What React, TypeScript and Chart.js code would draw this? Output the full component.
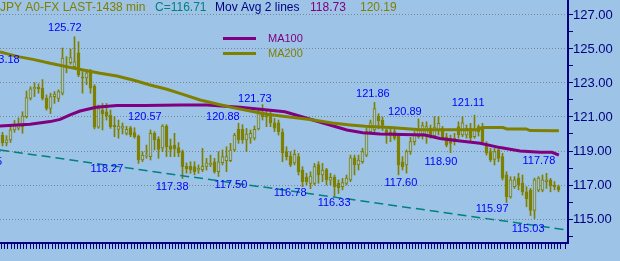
import React, { useEffect, useRef } from 'react';
import { Chart, registerables } from 'chart.js';

Chart.register(...registerables);

// ---- OHLC data (one bar per index) ----
const opens = [
  119.94, 119.47, 119.65, 120.24, 120.35, 120.43, 121.02, 122.1, 122.65, 122.75,
  122.7, 122.1, 121.5, 122.2, 122.1, 122.4, 124.0, 124.2, 123.96, 124.78,
  123.35, 123.3, 123.67, 122.8, 120.4, 121.4, 121.3, 121.1, 120.53, 120.27,
  120.35, 120.04, 120.37, 120.08, 119.88, 118.47, 118.7, 118.67, 120.04, 119.7,
  119.18, 120.47, 119.3, 119.35, 119.2, 118.96, 118.1, 118.1, 118.08, 117.88,
  117.9, 118.1, 118.18, 118.37, 117.78, 118.31, 118.43, 118.43, 119.06, 120.28,
  120.28, 119.65, 119.75, 119.75, 120.3, 121.22, 121.2, 121.2, 120.65, 120.65,
  120.1, 118.96, 118.7, 118.3, 118.67, 117.88, 117.47, 117.1, 117.1, 118.2,
  117.59, 117.9, 117.29, 117.47, 117.1, 116.9, 117.1, 117.3, 118.6, 118.18,
  118.37, 118.76, 120.14, 120.24, 121.06, 120.8, 120.24, 120.1, 120.14, 119.94,
  118.37, 118.18, 118.96, 119.55, 119.84, 120.0, 119.84, 120.33, 119.9, 120.24,
  120.35, 119.84, 119.75, 119.55, 120.43, 119.94, 119.94, 120.35, 119.84, 120.43,
  120.35, 119.35, 118.96, 118.5, 119.06, 118.67, 117.6, 116.3, 116.9, 117.4,
  117.1, 116.6, 116.7, 115.5, 116.7, 116.7, 117.2, 117.3, 117.0, 116.9,
];
const highs = [
  120.1, 119.9, 120.5, 120.8, 120.94, 121.31, 122.53, 122.78, 123.02, 122.95,
  123.2, 122.3, 122.4, 122.5, 122.6, 125.06, 124.55, 125.0, 125.72, 125.43,
  123.67, 123.8, 123.8, 122.9, 121.7, 121.8, 121.8, 121.41, 121.02, 120.82,
  120.65, 120.45, 120.45, 120.37, 119.94, 118.96, 119.35, 120.24, 120.14, 119.84,
  120.55, 120.55, 119.7, 120.04, 119.5, 119.06, 118.3, 118.37, 118.37, 118.18,
  119.16, 118.57, 118.76, 118.57, 118.96, 119.06, 119.25, 119.45, 120.04, 120.63,
  120.55, 120.33, 120.24, 120.47, 121.5, 121.73, 121.41, 121.41, 120.92, 120.82,
  120.3, 119.25, 118.96, 119.06, 118.86, 118.08, 117.69, 117.78, 118.27, 118.37,
  118.27, 117.98, 117.69, 117.59, 117.3, 117.39, 117.59, 118.76, 118.76, 118.76,
  119.16, 120.33, 120.82, 121.86, 121.2, 121.0, 120.43, 120.33, 120.33, 120.04,
  118.67, 119.06, 119.8, 120.14, 120.89, 120.7, 120.72, 120.53, 121.02, 121.02,
  120.45, 120.04, 119.94, 120.04, 120.72, 121.02, 120.53, 120.63, 121.11, 120.53,
  120.63, 119.55, 119.16, 119.16, 119.25, 118.86, 117.78, 117.49, 117.49, 117.69,
  117.59, 116.9, 116.8, 117.4, 117.49, 117.59, 117.69, 117.39, 117.2, 117.0,
];
const lows = [
  119.3, 119.3, 119.5, 120.1, 120.24, 120.04, 120.94, 122.0, 122.2, 122.4,
  122.0, 121.4, 121.2, 121.8, 121.9, 122.3, 123.6, 124.1, 123.9, 123.37,
  122.4, 122.9, 122.4, 120.3, 120.33, 120.24, 120.82, 120.33, 119.84, 119.75,
  120.0, 119.94, 119.84, 119.75, 118.27, 118.37, 118.57, 118.47, 119.06, 118.57,
  118.96, 118.67, 118.67, 118.67, 118.67, 117.38, 117.7, 117.69, 117.6, 117.69,
  117.78, 117.88, 118.08, 117.69, 117.5, 118.18, 117.78, 118.37, 118.96, 119.45,
  119.45, 118.96, 119.45, 119.65, 120.24, 120.82, 120.43, 120.43, 120.14, 119.94,
  118.37, 118.47, 118.08, 118.18, 117.59, 116.9, 117.0, 116.78, 117.0, 117.1,
  117.2, 117.0, 117.0, 116.33, 116.5, 116.71, 117.0, 117.2, 117.59, 117.88,
  118.27, 118.67, 120.04, 120.1, 120.3, 120.2, 119.45, 119.55, 119.65, 117.6,
  117.88, 117.7, 118.8, 119.35, 119.75, 119.7, 119.45, 119.75, 119.75, 119.94,
  119.65, 119.25, 118.9, 119.35, 119.75, 119.84, 119.75, 119.55, 119.75, 119.88,
  119.45, 118.76, 118.37, 118.18, 118.37, 117.29, 115.97, 116.22, 116.8, 116.71,
  116.41, 115.72, 115.2, 115.03, 116.6, 116.6, 116.8, 116.6, 116.71, 116.6,
];
const closes = [
  119.47, 119.65, 120.24, 120.53, 120.53, 121.06, 122.14, 122.65, 122.75, 122.65,
  122.1, 121.5, 122.2, 122.35, 122.5, 124.47, 123.9, 124.5, 124.25, 123.47,
  123.3, 123.6, 122.69, 120.4, 121.5, 121.2, 121.06, 120.43, 120.43, 120.47,
  120.45, 120.28, 119.94, 119.84, 118.47, 118.76, 118.76, 120.04, 119.65, 119.1,
  120.47, 119.25, 119.1, 119.12, 118.9, 118.08, 117.95, 117.9, 117.78, 117.98,
  118.1, 118.3, 118.27, 117.78, 118.37, 118.67, 118.67, 119.06, 119.94, 119.65,
  119.65, 120.0, 120.04, 120.28, 121.24, 121.02, 121.02, 120.65, 120.35, 120.14,
  118.9, 118.67, 118.18, 118.8, 117.78, 117.2, 117.2, 117.53, 118.08, 117.6,
  117.88, 117.3, 117.45, 116.9, 116.85, 117.14, 117.4, 118.6, 118.2, 118.47,
  118.96, 120.14, 120.65, 121.5, 120.78, 120.5, 120.06, 120.0, 119.75, 118.18,
  118.08, 118.96, 119.55, 119.94, 120.24, 120.5, 120.43, 119.94, 120.4, 120.63,
  119.77, 119.35, 119.45, 119.75, 119.94, 120.65, 120.33, 119.77, 120.24, 120.14,
  119.55, 118.88, 118.47, 118.96, 118.57, 117.4, 116.3, 117.3, 117.3, 117.0,
  116.6, 116.2, 115.5, 117.3, 117.4, 117.3, 117.3, 116.95, 116.9, 116.71,
];

// ---- Moving averages (bar index, value) ----
const ma100Idx = [-0.625, 6.9, 11.9, 14.4, 16.9, 19.4, 23.4, 28.6, 35.6, 44.4, 51.1, 59.4, 64.4, 70.6, 77.6, 86.1, 90.1, 94.4, 105.6, 109.4, 114.4, 119.4, 124.4, 129.4, 134.4, 137.4, 139.1];
const ma100Val = [120.47, 120.57, 120.73, 120.86, 121.12, 121.35, 121.57, 121.67, 121.67, 121.7, 121.7, 121.57, 121.45, 121.31, 120.82, 120.24, 120.08, 120.0, 119.94, 119.74, 119.59, 119.45, 119.2, 119.0, 118.92, 118.92, 118.76];
const ma200Idx = [-0.625, 3.9, 7.6, 11.9, 16.1, 21.1, 24.4, 28.6, 32.6, 36.9, 41.1, 45.1, 49.4, 53.6, 57.6, 61.9, 66.1, 70.1, 76.9, 82.4, 86.9, 90.6, 96.9, 104.4, 118.9, 119.9, 125.1, 126.1, 130.9, 131.9, 139.1];
const ma200Val = [124.82, 124.55, 124.39, 124.16, 123.96, 123.72, 123.57, 123.41, 123.18, 122.88, 122.63, 122.33, 122.0, 121.76, 121.55, 121.35, 121.16, 121.04, 120.85, 120.65, 120.53, 120.45, 120.38, 120.25, 120.25, 120.38, 120.38, 120.3, 120.3, 120.2, 120.19];

// ---- Trend line ----
const trendIdx = [-0.625, 141.375];
const trendVal = [119.06, 114.35];

// ---- Price annotations ----
const noteText = ['125.72', '123.18', '120.57', '120.88', '121.73', '118.27', '117.38', '117.50', '116.78', '121.86', '120.89', '121.11', '116.33', '117.60', '118.90', '115.97', '115.03', '117.78', '118.45'];
const noteIdx = [15.6, 4.3, 35.6, 55.1, 63.1, 26.1, 42.4, 57.1, 71.9, 92.6, 100.6, 116.4, 82.9, 99.6, 109.6, 122.4, 131.4, 134.1, -0.125];
const noteVal = [126.24, 124.35, 121.0, 121.0, 122.06, 117.94, 116.88, 117.0, 116.53, 122.35, 121.29, 121.82, 115.94, 117.12, 118.35, 115.59, 114.41, 118.41, 118.35];
const noteAlign = ['center', 'right', 'center', 'center', 'center', 'center', 'center', 'center', 'center', 'center', 'center', 'center', 'center', 'center', 'center', 'center', 'center', 'center', 'right'];

// ---- Header texts ----
const headerText = ['JPY A0-FX LAST-1438 min', 'C=116.71', 'Mov Avg 2 lines', '118.73', '120.19'];
const legendLabels = ['MA100', 'MA200'];

const BG = '#9dc3e6';
const OLIVE = '#808000';
const PURPLE = '#800080';
const TEAL = '#008080';
const NAVY = '#000080';
const BLUE = '#0000ff';
const FONT = '"Liberation Sans", Arial, sans-serif';

const Y_MIN = 127 - 228 / 17; // chart bottom value
const Y_MAX = 127 + 15 / 17;  // chart top value

const idx = opens.map((_, i) => i);

const bgPlugin = {
  id: 'bgFill',
  beforeDraw(chart: any) {
    const { ctx, width, height } = chart;
    ctx.save();
    ctx.fillStyle = BG;
    ctx.fillRect(0, 0, width, height);
    ctx.restore();
  },
};

const overlayPlugin = {
  id: 'overlay',
  afterDraw(chart: any) {
    const { ctx } = chart;
    const xs = chart.scales.x;
    const ys = chart.scales.y;
    ctx.save();
    // annotations
    ctx.font = `11px ${FONT}`;
    ctx.fillStyle = BLUE;
    ctx.textBaseline = 'middle';
    noteText.forEach((t, k) => {
      ctx.textAlign = noteAlign[k];
      ctx.fillText(t, xs.getPixelForValue(noteIdx[k]), ys.getPixelForValue(noteVal[k]));
    });
    // header
    ctx.font = `12px ${FONT}`;
    ctx.textAlign = 'left';
    const hx = [0, 155, 215, 310, 360];
    const hc = [OLIVE, TEAL, NAVY, PURPLE, OLIVE];
    headerText.forEach((t, k) => {
      ctx.fillStyle = hc[k];
      ctx.fillText(t, hx[k], 8);
    });
    // legend
    const lc = [PURPLE, OLIVE];
    const ly = [38, 53];
    legendLabels.forEach((t, k) => {
      ctx.strokeStyle = lc[k];
      ctx.lineWidth = 3;
      ctx.beginPath();
      ctx.moveTo(223, ly[k] + 0.5);
      ctx.lineTo(256, ly[k] + 0.5);
      ctx.stroke();
      ctx.fillStyle = lc[k];
      ctx.font = `11px ${FONT}`;
      ctx.fillText(t, 268, ly[k] + 1);
    });
    ctx.restore();
  },
};

export default function App() {
  const ref = useRef<HTMLCanvasElement>(null);
  useEffect(() => {
    if (!ref.current) return;
    Chart.defaults.font.family = FONT;
    const chart = new Chart(ref.current, {
      type: 'bar',
      data: {
        datasets: [
          {
            type: 'bar',
            label: 'wick',
            data: idx.map((i) => ({ x: i, y: [lows[i], highs[i]] })) as any,
            barThickness: 1,
            backgroundColor: OLIVE,
            borderWidth: 0,
            grouped: false,
            order: 5,
          } as any,
          {
            type: 'bar',
            label: 'body',
            data: idx.map((i) => ({ x: i, y: [opens[i], closes[i]] })) as any,
            barThickness: 3,
            backgroundColor: (c: any) => (closes[c.dataIndex] >= opens[c.dataIndex] ? BG : OLIVE),
            borderColor: OLIVE,
            borderWidth: 1,
            borderSkipped: false,
            grouped: false,
            order: 4,
          } as any,
          {
            type: 'line',
            label: 'trend',
            data: trendIdx.map((x, k) => ({ x, y: trendVal[k] })),
            borderColor: TEAL,
            borderWidth: 1.5,
            borderDash: [9, 5],
            pointRadius: 0,
            fill: false,
            order: 3,
          } as any,
          {
            type: 'line',
            label: 'MA100',
            data: ma100Idx.map((x, k) => ({ x, y: ma100Val[k] })),
            borderColor: PURPLE,
            borderWidth: 3,
            pointRadius: 0,
            fill: false,
            tension: 0,
            order: 2,
          } as any,
          {
            type: 'line',
            label: 'MA200',
            data: ma200Idx.map((x, k) => ({ x, y: ma200Val[k] })),
            borderColor: OLIVE,
            borderWidth: 3,
            pointRadius: 0,
            fill: false,
            tension: 0,
            order: 1,
          } as any,
        ],
      },
      options: {
        animation: false,
        responsive: false,
        devicePixelRatio: 1,
        layout: { padding: 0 },
        plugins: { legend: { display: false }, tooltip: { enabled: false }, title: { display: false } },
        scales: {
          x: {
            type: 'linear',
            display: false,
            min: -0.625,
            max: 141.375,
            offset: false,
          },
          xt: {
            type: 'linear',
            position: 'bottom',
            min: 0,
            max: 568 / 3.16,
            offset: false,
            ticks: { display: false, stepSize: 1 },
            grid: { drawOnChartArea: false, drawTicks: true, tickLength: 6, tickColor: NAVY, lineWidth: 1 },
            border: { color: NAVY, width: 2 },
            afterFit(s: any) {
              s.height = 18;
              s.paddingLeft = 0;
              s.paddingRight = 0;
            },
          },
          y: {
            type: 'linear',
            position: 'right',
            min: Y_MIN,
            max: Y_MAX,
            ticks: {
              stepSize: 1,
              includeBounds: false,
              padding: 0,
              color: NAVY,
              font: { size: 13, family: FONT },
              callback: (v: any) => (Math.round(v) % 2 === 1 ? Number(v).toFixed(2) : ''),
            },
            grid: {
              color: (c: any) => (c.tick && Math.round(c.tick.value) % 2 === 1 ? '#7d8690' : 'rgba(0,0,0,0)'),
              lineWidth: 1,
              drawTicks: true,
              tickLength: 5,
              tickColor: NAVY,
            },
            border: { color: NAVY, width: 2, dash: [1, 2] },
            afterFit(s: any) {
              s.width = 52;
              s.paddingTop = 0;
              s.paddingBottom = 0;
            },
          },
        },
      } as any,
      plugins: [bgPlugin, overlayPlugin],
    });
    return () => chart.destroy();
  }, []);
  return (
    <div style={{ position: 'fixed', left: 0, top: 0, width: 620, height: 261 }}>
      <canvas ref={ref} width={620} height={261} style={{ display: 'block', width: 620, height: 261 }} />
    </div>
  );
}
